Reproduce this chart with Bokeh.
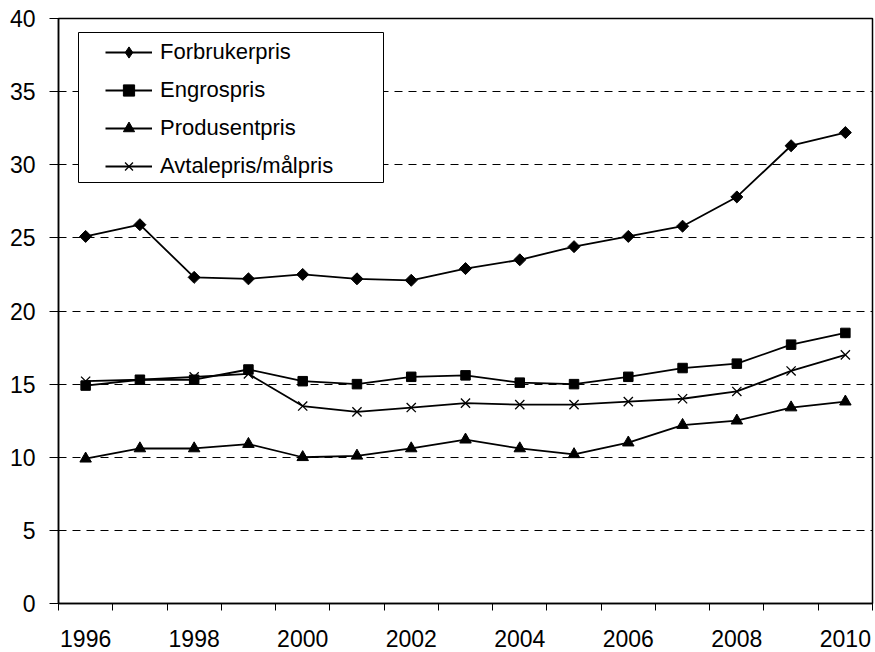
import math
from bokeh.plotting import figure
from bokeh.models import (FixedTicker, Legend, LegendItem, BoxAnnotation, Range1d)
from bokeh.embed import file_html
from bokeh.resources import INLINE

# ---------------- data ----------------
years = [1996, 1997, 1998, 1999, 2000, 2001, 2002, 2003, 2004, 2005, 2006, 2007, 2008, 2009, 2010]
forbrukerpris = [25.1, 25.9, 22.3, 22.2, 22.5, 22.2, 22.1, 22.9, 23.5, 24.4, 25.1, 25.8, 27.8, 31.3, 32.2]
engrospris = [14.9, 15.3, 15.3, 16.0, 15.2, 15.0, 15.5, 15.6, 15.1, 15.0, 15.5, 16.1, 16.4, 17.7, 18.5]
produsentpris = [9.9, 10.6, 10.6, 10.9, 10.0, 10.1, 10.6, 11.2, 10.6, 10.2, 11.0, 12.2, 12.5, 13.4, 13.8]
avtalepris = [15.2, 15.3, 15.5, 15.7, 13.5, 13.1, 13.4, 13.7, 13.6, 13.6, 13.8, 14.0, 14.5, 15.9, 17.0]
series_names = ["Forbrukerpris", "Engrospris", "Produsentpris", "Avtalepris/målpris"]
x_tick_years = [1996, 1998, 2000, 2002, 2004, 2006, 2008, 2010]
x_tick_labels = ["1996", "1998", "2000", "2002", "2004", "2006", "2008", "2010"]
y_ticks = [0, 5, 10, 15, 20, 25, 30, 35, 40]

# ---------------- layout ----------------
W, H = 875, 652
MB_L, MB_R, MB_T, MB_B = 58, 3, 18, 49
frame_w = W - MB_L - MB_R
frame_h = H - MB_T - MB_B
FONT = "Liberation Sans"

x_lo, x_hi = years[0] - 0.5, years[-1] + 0.5
y_lo, y_hi = 0, 40

p = figure(width=W, height=H, output_backend="svg", toolbar_location=None,
           x_range=Range1d(x_lo, x_hi), y_range=Range1d(y_lo, y_hi),
           min_border_left=MB_L, min_border_right=MB_R,
           min_border_top=MB_T, min_border_bottom=MB_B)
p.background_fill_color = "white"
p.border_fill_color = "white"
p.outline_line_color = "black"
p.outline_line_width = 1.5

# x axis: tick marks between categories (minor), labels at every other category
p.xaxis.ticker = FixedTicker(ticks=x_tick_years,
                             minor_ticks=[y - 0.5 for y in years] + [years[-1] + 0.5])
p.xaxis.major_label_overrides = {yr: lab for yr, lab in zip(x_tick_years, x_tick_labels)}
p.xaxis.major_tick_out = 0
p.xaxis.major_tick_in = 0
p.xaxis.minor_tick_out = 7
p.xaxis.minor_tick_in = 0
p.xaxis.minor_tick_line_color = "black"
p.xaxis.minor_tick_line_width = 1
p.xaxis.major_label_standoff = 19

p.yaxis.ticker = FixedTicker(ticks=y_ticks)
p.yaxis.major_tick_out = 9
p.yaxis.major_tick_in = 0
p.yaxis.minor_tick_line_color = None
p.yaxis.major_label_standoff = 14

for ax in (p.xaxis, p.yaxis):
    ax.axis_line_color = "black"
    ax.axis_line_width = 1.5
    ax.major_tick_line_color = "black"
    ax.major_tick_line_width = 1
    ax.major_label_text_font = FONT
    ax.major_label_text_font_size = "23px"
    ax.major_label_text_color = "black"

p.xgrid.grid_line_color = None
p.ygrid.ticker = FixedTicker(ticks=y_ticks)
p.ygrid.grid_line_color = "black"
p.ygrid.grid_line_width = 1
p.ygrid.grid_line_dash = "8 6"

# ---------------- series ----------------
LW = 1.8
# Forbrukerpris: diamond (rotated square); a narrow diamond underneath serves as legend glyph
l1 = p.line(years, forbrukerpris, line_color="black", line_width=LW)
d_proxy = p.scatter(years, forbrukerpris, marker="diamond", size=8,
                    fill_color="black", line_color="black")
p.scatter(years, forbrukerpris, marker="square", angle=math.pi / 4, size=8.5,
          fill_color="black", line_color="black")

l2 = p.line(years, engrospris, line_color="black", line_width=LW)
m2 = p.scatter(years, engrospris, marker="square", size=9.5,
               fill_color="black", line_color="black")

l3 = p.line(years, produsentpris, line_color="black", line_width=LW)
m3 = p.scatter(years, produsentpris, marker="triangle", size=11.5,
               fill_color="black", line_color="black")

l4 = p.line(years, avtalepris, line_color="black", line_width=LW)
m4 = p.scatter(years, avtalepris, marker="x", size=13,
               line_color="black", line_width=1.3)

# ---------------- legend ----------------
px_x = (x_hi - x_lo) / frame_w
px_y = (y_hi - y_lo) / frame_h
box = BoxAnnotation(left=x_lo + 20 * px_x, right=x_lo + 325 * px_x,
                    top=y_hi - 14 * px_y, bottom=y_hi - 164 * px_y,
                    fill_color="white", fill_alpha=1.0,
                    line_color="black", line_alpha=1.0, line_width=1)
p.add_layout(box)

legend = Legend(items=[
    LegendItem(label=series_names[0], renderers=[l1, d_proxy]),
    LegendItem(label=series_names[1], renderers=[l2, m2]),
    LegendItem(label=series_names[2], renderers=[l3, m3]),
    LegendItem(label=series_names[3], renderers=[l4, m4]),
],
    location=(47, frame_h - 20 - 142), margin=0, padding=0, spacing=10,
    glyph_width=47, glyph_height=28, label_height=28, label_standoff=8,
    border_line_color=None, background_fill_alpha=0,
    label_text_font=FONT, label_text_font_size="22px", label_text_color="black")
p.add_layout(legend)

open("out.html", "w").write(file_html(p, INLINE))
